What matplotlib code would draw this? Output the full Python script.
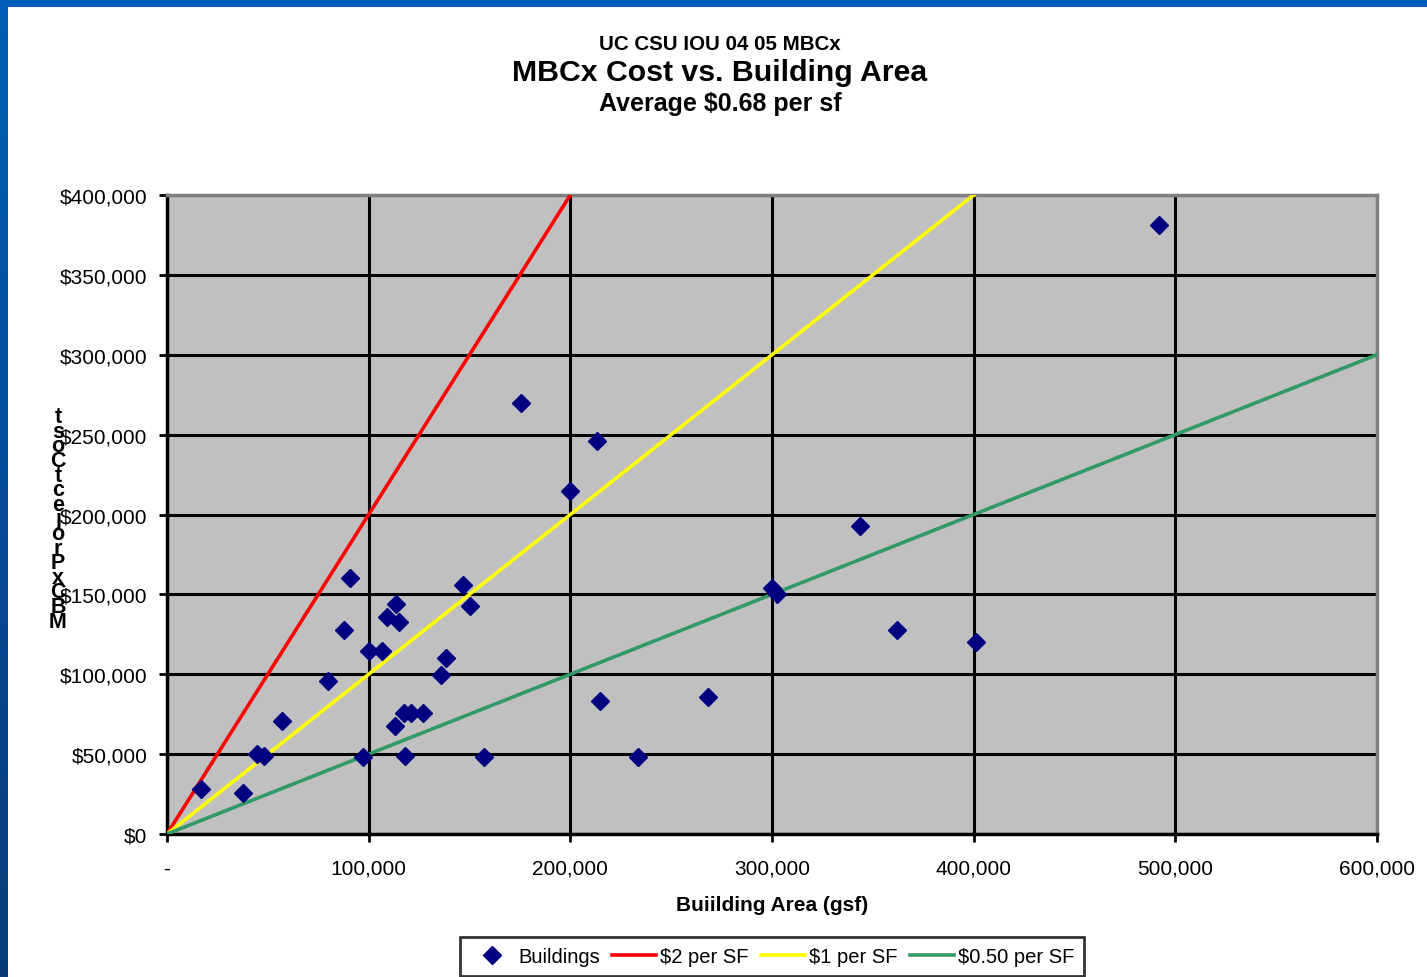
import matplotlib
matplotlib.use("Agg")
import matplotlib.pyplot as plt
from matplotlib.patches import Rectangle
from matplotlib.ticker import FuncFormatter
from matplotlib.colors import LinearSegmentedColormap
import numpy as np

plt.rcParams['font.family'] = ['Liberation Sans', 'DejaVu Sans']

# Data
bldg_area = [17000, 37500, 44500, 48000, 57000, 80000, 88000, 90500, 100000, 106500,
             109000, 113500, 115000, 113000, 117500, 121000, 127000, 118000, 97000,
             136000, 138500, 147000, 150000, 157000, 175500, 213000, 200000, 214500,
             233500, 268500, 300000, 302500, 343500, 362000, 401000, 492000]
mbcx_cost = [28000, 25500, 50000, 49000, 70500, 96000, 128000, 160000, 114500, 114500,
             136000, 144000, 132500, 67500, 75500, 75500, 75500, 49000, 48500,
             99500, 110000, 156000, 143000, 48500, 270000, 246000, 214500, 83000,
             48500, 85500, 154000, 150000, 193000, 128000, 120000, 381000]

ref_lines = [
    ("$2 per SF", [0, 200000], [0, 400000], "#FF0000"),
    ("$1 per SF", [0, 400000], [0, 400000], "#FFFF00"),
    ("$0.50 per SF", [0, 600000], [0, 300000], "#339966"),
]

x_ticks = [0, 100000, 200000, 300000, 400000, 500000, 600000]
y_ticks = [0, 50000, 100000, 150000, 200000, 250000, 300000, 350000, 400000]

W, H = 1427, 978
fig = plt.figure(figsize=(W / 100, H / 100), dpi=100)
fig.patch.set_facecolor("white")

# Blue frame (left gradient and top band)
grad = np.linspace(0, 1, 256).reshape(-1, 1)
bax = fig.add_axes([0, 0, 8 / W, 1])
cmap = LinearSegmentedColormap.from_list("b", ["#0A3A78", "#005EB8"])
bax.imshow(grad, aspect="auto", cmap=cmap, origin="lower", extent=[0, 1, 0, 1])
bax.set_axis_off()
fig.patches.append(Rectangle((0, 1 - 8 / H), 1, 8 / H, transform=fig.transFigure,
                             facecolor="#005EB8", edgecolor="none", zorder=5))

ax = fig.add_axes([167 / W, (H - 835) / H, (1377 - 167) / W, (835 - 196) / H])
ax.set_facecolor("#C0C0C0")
ax.set_xlim(0, 600000)
ax.set_ylim(0, 400000)
ax.set_xticks(x_ticks)
ax.set_yticks(y_ticks)
ax.grid(True, color="black", linewidth=2.2, zorder=1)
ax.set_axisbelow(True)

ax.xaxis.set_major_formatter(FuncFormatter(lambda v, p: "-" if v == 0 else f"{int(v):,}"))
ax.yaxis.set_major_formatter(FuncFormatter(lambda v, p: f"${int(v):,}"))
ax.tick_params(axis="both", labelsize=15, direction="out", length=6, width=2, color="black")
ax.tick_params(axis="x", pad=12)
ax.tick_params(axis="y", pad=8)

for s in ["left", "bottom"]:
    ax.spines[s].set_color("black")
    ax.spines[s].set_linewidth(2.5)
for s in ["top", "right"]:
    ax.spines[s].set_color("#808080")
    ax.spines[s].set_linewidth(2.5)

handles = []
h, = ax.plot(bldg_area, mbcx_cost, linestyle="none", marker="D", markersize=9.5,
             color="#000080", label="Buildings", zorder=4)
handles.append(h)
for label, xs, ys, c in ref_lines:
    l, = ax.plot(xs, ys, color=c, linewidth=2.6, label=label, zorder=3)
    handles.append(l)

ax.set_xlabel("Buiilding Area (gsf)", fontsize=15, fontweight="bold", labelpad=12)

# Stacked (broken) vertical y-axis label as in the original
ylab = "MBCxProjectCost"
fig.text(58 / W, 1 - 520 / H, "\n".join(reversed(ylab)), fontsize=15.5, fontweight="bold",
         ha="center", va="center", linespacing=0.6)

# Titles
fig.text(720 / W, 1 - 44 / H, "UC CSU IOU 04 05 MBCx", fontsize=14.8, fontweight="bold",
         ha="center", va="center")
fig.text(720 / W, 1 - 73 / H, "MBCx Cost vs. Building Area", fontsize=21.8, fontweight="bold",
         ha="center", va="center")
fig.text(720 / W, 1 - 104 / H, "Average $0.68 per sf", fontsize=18, fontweight="bold",
         ha="center", va="center")

leg = fig.legend(handles=handles, loc="upper center", ncol=4,
                 bbox_to_anchor=(772 / W, 1 - 938 / H), fontsize=14.5, frameon=True,
                 fancybox=False, edgecolor="black", handlelength=2.2, handletextpad=0.2,
                 columnspacing=0.6, borderpad=0.5, borderaxespad=0)
leg.get_frame().set_linewidth(2)

fig.savefig("out.png", dpi=100, facecolor="white")
